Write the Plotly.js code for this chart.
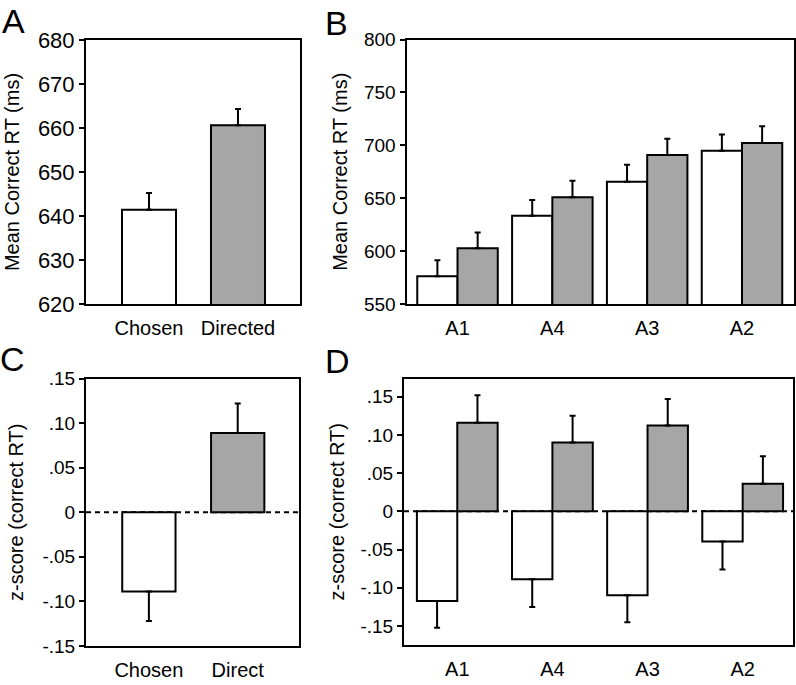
<!DOCTYPE html>
<html>
<head>
<meta charset="utf-8">
<script src="https://cdn.plot.ly/plotly-3.0.1.min.js"></script>
<style>html,body{margin:0;padding:0;background:#fff;}#chart{width:796px;height:685px;}</style>
</head>
<body>
<div id="chart"></div>
<script>
// Panel A / C categories
var condCats = ["Chosen", "Directed"];
var condCatsC = ["Chosen", "Direct"];
// Panel A: mean correct RT (ms)
var rtCond = [641.4, 660.6];
var rtCondErr = [3.8, 3.7];
// Panel B / D groups
var groups = ["A1", "A4", "A3", "A2"];
// Panel B: mean correct RT (ms) per group
var rtChosen = [576.2, 633.3, 665.5, 694.9];
var rtChosenErr = [15.2, 14.9, 16.1, 15.4];
var rtDirected = [602.7, 651.0, 690.8, 702.2];
var rtDirectedErr = [14.8, 15.5, 15.5, 15.7];
// Panel C: z-scores
var zCond = [-0.089, 0.089];
var zCondErr = [0.033, 0.033];
// Panel D: z-scores per group
var zChosen = [-0.1175, -0.0888, -0.110, -0.0396];
var zChosenErr = [0.035, 0.0365, 0.0353, 0.0365];
var zDirected = [0.1162, 0.0901, 0.1123, 0.0362];
var zDirectedErr = [0.036, 0.035, 0.035, 0.036];
// z tick labels
var zTickVals = [-0.15, -0.10, -0.05, 0, 0.05, 0.10, 0.15];
var zTickText = ["-.15", "-.10", "-.05", "0", ".05", ".10", ".15"];

var W = 796, H = 685;
function dx(a, b) { return [a / W, b / W]; }
function dy(top, bottom) { return [1 - bottom / H, 1 - top / H]; }

var WHITE = "#ffffff", GREY = "#a6a6a6", BLACK = "#000000";
var FONT = "Liberation Sans, Arial, sans-serif";

function upErr(vals, errs) {
  return vals.map(function (v, i) { return v >= 0 ? errs[i] : 0; });
}
function downErr(vals, errs) {
  return vals.map(function (v, i) { return v < 0 ? errs[i] : 0; });
}
function errObj(plus, minus) {
  return { type: "data", symmetric: false, array: plus, arrayminus: minus,
           color: BLACK, thickness: 2, width: 3 };
}
var zeros2 = [0, 0], zeros4 = [0, 0, 0, 0];

var data = [
  { type: "bar", x: condCats, y: rtCond, xaxis: "x", yaxis: "y", width: 0.607,
    marker: { color: [WHITE, GREY], line: { color: BLACK, width: 2 } },
    error_y: errObj(rtCondErr, zeros2), showlegend: false, hoverinfo: "x+y" },
  { type: "bar", x: groups, y: rtChosen, xaxis: "x2", yaxis: "y2",
    marker: { color: WHITE, line: { color: BLACK, width: 2 } },
    error_y: errObj(rtChosenErr, zeros4), showlegend: false },
  { type: "bar", x: groups, y: rtDirected, xaxis: "x2", yaxis: "y2",
    marker: { color: GREY, line: { color: BLACK, width: 2 } },
    error_y: errObj(rtDirectedErr, zeros4), showlegend: false },
  { type: "bar", x: condCatsC, y: zCond, xaxis: "x3", yaxis: "y3", width: 0.6,
    marker: { color: [WHITE, GREY], line: { color: BLACK, width: 2 } },
    error_y: errObj(upErr(zCond, zCondErr), downErr(zCond, zCondErr)), showlegend: false },
  { type: "bar", x: groups, y: zChosen, xaxis: "x4", yaxis: "y4",
    marker: { color: WHITE, line: { color: BLACK, width: 2 } },
    error_y: errObj(upErr(zChosen, zChosenErr), downErr(zChosen, zChosenErr)), showlegend: false },
  { type: "bar", x: groups, y: zDirected, xaxis: "x4", yaxis: "y4",
    marker: { color: GREY, line: { color: BLACK, width: 2 } },
    error_y: errObj(upErr(zDirected, zDirectedErr), downErr(zDirected, zDirectedErr)), showlegend: false }
];

function xAx(domain, range, anchor) {
  return { domain: domain, range: range, type: "category", anchor: anchor,
           showline: true, mirror: true, linecolor: BLACK, linewidth: 2,
           ticks: "", showgrid: false, zeroline: false, fixedrange: true,
           ticklabelstandoff: 5,
           tickfont: { family: FONT, size: 20, color: BLACK } };
}
function yAx(domain, range, anchor, title, tickSize, standoff, extra) {
  var o = { domain: domain, range: range, anchor: anchor,
            showline: true, mirror: true, linecolor: BLACK, linewidth: 2,
            ticks: "outside", ticklen: 5, tickwidth: 2, tickcolor: BLACK,
            showgrid: false, zeroline: false, fixedrange: true,
            tickfont: { family: FONT, size: tickSize, color: BLACK },
            title: { text: title, font: { family: FONT, size: 20, color: BLACK }, standoff: standoff } };
  for (var k in extra) o[k] = extra[k];
  return o;
}

var layout = {
  width: W, height: H,
  margin: { l: 0, r: 0, t: 0, b: 0 },
  paper_bgcolor: "#fff", plot_bgcolor: "#fff",
  barmode: "group", bargap: 0.151, bargroupgap: 0,
  font: { family: FONT, color: BLACK },
  showlegend: false,
  xaxis: xAx(dx(86, 300), [-0.708, 1.697], "y"),
  yaxis: yAx(dy(40, 304), [620, 680], "x", "Mean Correct RT (ms)", 22, 13, { dtick: 10, tick0: 620 }),
  xaxis2: xAx(dx(406.5, 793.5), [-0.538, 3.543], "y2"),
  yaxis2: yAx(dy(39.5, 304), [550, 800], "x2", "Mean Correct RT (ms)", 19, 11, { dtick: 50, tick0: 550 }),
  xaxis3: xAx(dx(86, 299), [-0.708, 1.69], "y3"),
  yaxis3: yAx(dy(378.5, 646), [-0.15, 0.15], "x3", "z-score (correct RT)", 19, 13,
              { tickmode: "array", tickvals: zTickVals, ticktext: zTickText }),
  xaxis4: xAx(dx(404, 793), [-0.56, 3.529], "y4"),
  yaxis4: yAx(dy(378.5, 645), [-0.175, 0.174], "x4", "z-score (correct RT)", 19, 10,
              { tickmode: "array", tickvals: zTickVals, ticktext: zTickText }),
  shapes: [
    { type: "line", xref: "x3 domain", yref: "y3", x0: 0, x1: 1, y0: 0, y1: 0, layer: "below",
      line: { color: BLACK, width: 2, dash: "5px,4px" } },
    { type: "line", xref: "x4 domain", yref: "y4", x0: 0, x1: 1, y0: 0, y1: 0, layer: "below",
      line: { color: BLACK, width: 2, dash: "5px,4px" } }
  ],
  annotations: [
    { text: "A", xref: "paper", yref: "paper", x: 0 / W, y: 1 - 21.5 / H, xanchor: "left", yanchor: "middle",
      showarrow: false, font: { family: FONT, size: 34, color: BLACK } },
    { text: "B", xref: "paper", yref: "paper", x: 323 / W, y: 1 - 22.5 / H, xanchor: "left", yanchor: "middle",
      showarrow: false, font: { family: FONT, size: 34, color: BLACK } },
    { text: "C", xref: "paper", yref: "paper", x: -2 / W, y: 1 - 358.5 / H, xanchor: "left", yanchor: "middle",
      showarrow: false, font: { family: FONT, size: 34, color: BLACK } },
    { text: "D", xref: "paper", yref: "paper", x: 323 / W, y: 1 - 361 / H, xanchor: "left", yanchor: "middle",
      showarrow: false, font: { family: FONT, size: 34, color: BLACK } }
  ]
};

Plotly.newPlot("chart", data, layout, { displayModeBar: false, staticPlot: true });
</script>
</body>
</html>
